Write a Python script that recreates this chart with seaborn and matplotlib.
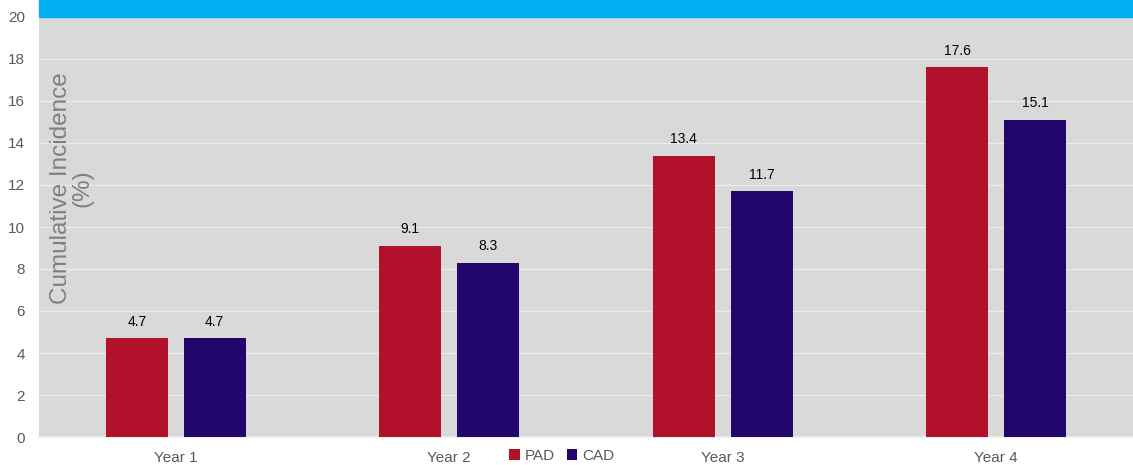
import matplotlib
matplotlib.use("Agg")
import matplotlib.pyplot as plt
import seaborn as sns
import pandas as pd
from matplotlib.patches import Rectangle

years = ["Year 1", "Year 2", "Year 3", "Year 4"]
groups = ["PAD", "CAD"]
pad_values = [4.7, 9.1, 13.4, 17.6]
cad_values = [4.7, 8.3, 11.7, 15.1]
y_ticks = [0, 2, 4, 6, 8, 10, 12, 14, 16, 18, 20]

df = pd.DataFrame({
    "year": years * 2,
    "group": ["PAD"] * len(years) + ["CAD"] * len(years),
    "value": pad_values + cad_values,
})

sns.set_theme(style="white")
plt.rcParams["font.family"] = ["Liberation Sans", "DejaVu Sans"]

fig = plt.figure(figsize=(11.33, 4.65), dpi=100)
ax = fig.add_axes([39 / 1133, 1 - 437 / 465, 1 - 39 / 1133, 420 / 465])
ax.set_facecolor("#D9D9D9")

palette = {"PAD": "#B1112B", "CAD": "#22066B"}
sns.barplot(data=df, x="year", y="value", hue="group", hue_order=groups,
            order=years, palette=palette, width=0.57, gap=0.2,
            saturation=1, ax=ax, zorder=3, legend=True, linewidth=0)

for container in ax.containers:
    ax.bar_label(container, fmt="%.1f", padding=7, fontsize=10, color="#000000")

ax.set_ylim(0, 20)
ax.set_xlim(-0.5, 3.5)
ax.set_yticks(y_ticks)
ax.yaxis.grid(True, color="#ECECEC", linewidth=0.8, zorder=0)
ax.set_axisbelow(True)
for s in ["top", "right", "left"]:
    ax.spines[s].set_visible(False)
ax.spines["bottom"].set_color("#EDEDED")
ax.tick_params(axis="y", colors="#595959", labelsize=11, length=0, pad=10)
ax.tick_params(axis="x", colors="#595959", labelsize=11, length=0, pad=10)
ax.set_xlabel("")
ax.set_ylabel("")

ax.text(0.030, 0.593, "Cumulative Incidence\n(%)", transform=ax.transAxes,
        rotation=90, ha="center", va="center", fontsize=17.5,
        color="#7F7F7F", linespacing=1.0)

leg = ax.legend(loc="center", bbox_to_anchor=(0.4776, -0.045),
                ncol=2, frameon=False, fontsize=11, handlelength=0.7,
                handleheight=0.7, columnspacing=0.8, handletextpad=0.3)
for t in leg.get_texts():
    t.set_color("#595959")

fig.patches.append(Rectangle((39 / 1133, 1 - 17 / 465), 1 - 39 / 1133, 17 / 465,
                             transform=fig.transFigure, color="#00B0F0",
                             zorder=5))

fig.savefig("out.png", dpi=100)
